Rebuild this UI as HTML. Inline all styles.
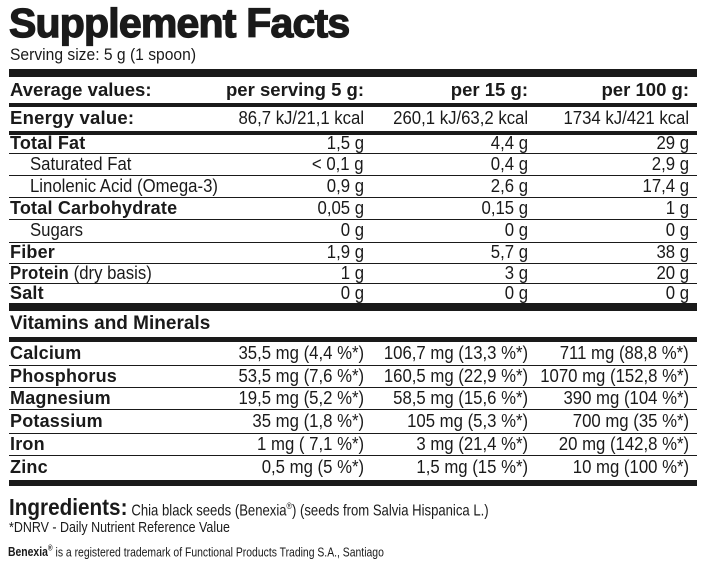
<!DOCTYPE html>
<html><head><meta charset="utf-8"><style>
body{margin:0;background:#fff;}
#c{position:relative;width:714px;height:566px;overflow:hidden;font-family:"Liberation Sans",sans-serif;color:#1a1a1a;}
.t{position:absolute;white-space:nowrap;}
.bar{position:absolute;left:9px;width:688px;background:#1a1a1a;}
.row{position:absolute;left:9px;width:688px;font-size:18px;}
.row span{position:absolute;white-space:nowrap;transform:scaleX(0.93);}
.row b{letter-spacing:0.2px;}
.l{left:1px;transform-origin:left center!important;}
.ind{left:21px;transform-origin:left center!important;}
.c1,.c2,.c3{transform-origin:right center!important;}
.c1{right:333px;}.c2{right:169px;}.c3{right:8px;}
b{font-weight:bold;}
</style></head><body>
<div id="c">
<div class="t" style="left:9px;top:0px;font-size:41px;font-weight:900;letter-spacing:-0.8px;-webkit-text-stroke:1.3px #1a1a1a;">Supplement Facts</div>
<div class="t" style="left:10px;top:45px;font-size:17px;transform:scaleX(0.92);transform-origin:left;">Serving size: 5 g (1 spoon)</div>

<div class="bar" style="top:69px;height:8px"></div>
<div class="row" style="top:77px;height:26px;line-height:26px;font-weight:bold;">
<span class="l" style="transform:scaleX(1.03)">Average values:</span><span class="c1" style="transform:scaleX(1.03)">per serving 5 g:</span><span class="c2" style="transform:scaleX(1.03)">per 15 g:</span><span class="c3" style="transform:scaleX(1.03)">per 100 g:</span></div>
<div class="bar" style="top:103px;height:4px"></div>
<div class="row" style="top:106px;height:25px;line-height:25px;">
<span class="l" style="transform:scaleX(1.03)"><b>Energy value:</b></span><span class="c1">86,7 kJ/21,1 kcal</span><span class="c2">260,1 kJ/63,2 kcal</span><span class="c3">1734 kJ/421 kcal</span></div>
<div class="bar" style="top:131px;height:4px"></div>

<div class="bar" style="top:303px;height:8px"></div>
<div class="row" style="top:311px;height:26px;line-height:26px;font-weight:bold;font-size:19px;"><span class="l" style="transform:scaleX(1.0)">Vitamins and Minerals</span></div>
<div class="bar" style="top:337px;height:5px"></div>

<div class="bar" style="top:480px;height:6px"></div>

<div class="t" style="left:9px;top:494px;transform:scaleX(0.9);transform-origin:left;"><b style="font-size:23px;">Ingredients:</b> <span style="font-size:16px;transform:scaleX(0.91);display:inline-block;transform-origin:left;">Chia black seeds (Benexia<sup style="font-size:9px">®</sup>) (seeds from Salvia Hispanica L.)</span></div>
<div class="t" style="left:9px;top:519px;font-size:15px;transform:scaleX(0.83);transform-origin:left;">*DNRV - Daily Nutrient Reference Value</div>
<div class="t" style="left:8px;top:544px;font-size:13px;transform:scaleX(0.8);transform-origin:left;"><b>Benexia<sup style="font-size:8px">®</sup></b> is a registered trademark of Functional Products Trading S.A., Santiago</div>
</div>
<script>
const nutrients=[["Total Fat","1,5 g","4,4 g","29 g",1,0],["Saturated Fat","< 0,1 g","0,4 g","2,9 g",0,1],["Linolenic Acid (Omega-3)","0,9 g","2,6 g","17,4 g",0,1],["Total Carbohydrate","0,05 g","0,15 g","1 g",1,0],["Sugars","0 g","0 g","0 g",0,1],["Fiber","1,9 g","5,7 g","38 g",1,0],["<b>Protein</b> (dry basis)","1 g","3 g","20 g",0,0],["Salt","0 g","0 g","0 g",1,0]];
const nutTops=[134,153,175,197,219,242,263,283,303];
const minerals=[["Calcium","35,5 mg (4,4 %*)","106,7 mg (13,3 %*)","711 mg (88,8 %*)"],["Phosphorus","53,5 mg (7,6 %*)","160,5 mg (22,9 %*)","1070 mg (152,8 %*)"],["Magnesium","19,5 mg (5,2 %*)","58,5 mg (15,6 %*)","390 mg (104 %*)"],["Potassium","35 mg (1,8 %*)","105 mg (5,3 %*)","700 mg (35 %*)"],["Iron","1 mg ( 7,1 %*)","3 mg (21,4 %*)","20 mg (142,8 %*)"],["Zinc","0,5 mg (5 %*)","1,5 mg (15 %*)","10 mg (100 %*)"]];
const minTops=[342,365,387,409,433,455,480];
const c=document.getElementById('c');
function addRows(list,tops,isMin){
list.forEach((r,i)=>{
const d=document.createElement('div');
d.className='row';


const top=tops[i],h=tops[i+1]-top;
d.style.top=top+'px';d.style.height=h+'px';d.style.lineHeight=h+'px';
const bold=isMin||r[4];
const lab=bold?'<b>'+r[0]+'</b>':r[0];
const sc=bold?' style="transform:scaleX(1.0)"':'';
d.innerHTML='<span class="'+(r[5]?'ind':'l')+'"'+sc+'>'+lab+'</span><span class="c1">'+r[1]+'</span><span class="c2">'+r[2]+'</span><span class="c3">'+r[3]+'</span>';
c.appendChild(d);
if(i<list.length-1){
const ln=document.createElement('div');
ln.className='bar';


ln.style.top=(tops[i+1])+'px';ln.style.height='1px';
c.appendChild(ln);}
});}
addRows(nutrients,nutTops,false);
addRows(minerals,minTops,true);
</script>
</body></html>
